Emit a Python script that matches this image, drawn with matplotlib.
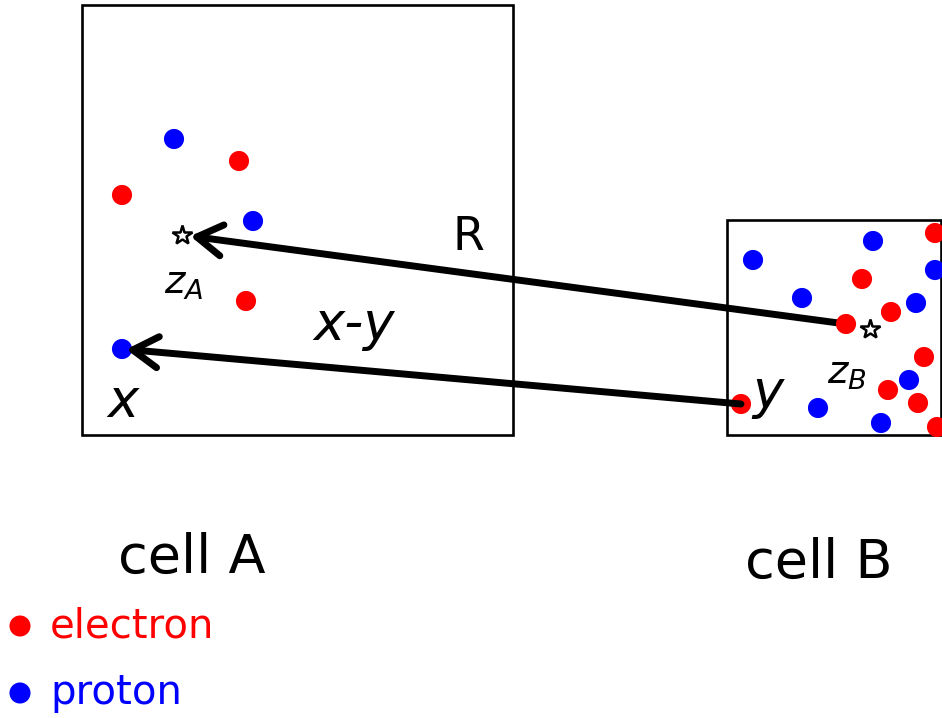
import matplotlib
matplotlib.use("Agg")
import matplotlib.pyplot as plt
from matplotlib.patches import Rectangle

# ---- data (diagram coordinates, y grows downward) ----
electron_x = [239, 122, 246, 935, 862, 891, 846, 924, 888, 918, 741, 937]
electron_y = [161, 195, 301, 233, 279, 312, 324, 357, 390, 403, 404, 427]
proton_x = [174, 253, 122, 753, 873, 935, 802, 916, 909, 818, 881]
proton_y = [139, 221, 349, 260, 241, 270, 298, 303, 380, 408, 423]
centers_x = [182, 870]
centers_y = [235, 329]
center_labels = ["$z_A$", "$z_B$"]
cell_labels = ["cell A", "cell B"]
legend_labels = ["electron", "proton"]

fig = plt.figure(figsize=(9.42, 7.18), dpi=100)
ax = fig.add_axes([0, 0, 1, 1])
ax.set_xlim(0, 942)
ax.set_ylim(718, 0)
ax.axis("off")

# cells
ax.add_patch(Rectangle((82, 5), 431, 430, fill=False, lw=1.9, ec="black", zorder=1))
ax.add_patch(Rectangle((727, 220), 214, 215, fill=False, lw=1.9, ec="black", zorder=1))

# particles
ax.scatter(electron_x, electron_y, s=210, c="red", edgecolors="none", zorder=3)
ax.scatter(proton_x, proton_y, s=210, c="blue", edgecolors="none", zorder=3)

# cell centres
ax.plot(centers_x, centers_y, ls="none", marker="*", ms=15, mfc="white",
        mec="black", mew=1.8, zorder=4)

# arrows
ax.annotate("", xy=(centers_x[0], centers_y[0]), xytext=(electron_x[6], electron_y[6]),
            arrowprops=dict(arrowstyle="->,head_length=0.65,head_width=0.4", lw=5,
                            color="black", shrinkA=0, shrinkB=6, mutation_scale=28),
            zorder=2)
ax.annotate("", xy=(proton_x[2], proton_y[2]), xytext=(electron_x[10], electron_y[10]),
            arrowprops=dict(arrowstyle="->,head_length=0.65,head_width=0.4", lw=5,
                            color="black", shrinkA=0, shrinkB=3, mutation_scale=28),
            zorder=5)

# labels
ax.text(468, 238, "R", fontsize=33, ha="center", va="center")
ax.text(354, 325, "x-y", fontsize=38, style="italic", ha="center", va="center")
ax.text(123, 402, "x", fontsize=38, style="italic", ha="center", va="center")
ax.text(752, 393, "y", fontsize=38, style="italic", ha="left", va="center")
ax.text(164, 294, center_labels[0], fontsize=28, ha="left", va="baseline")
ax.text(827, 384, center_labels[1], fontsize=28, ha="left", va="baseline")
ax.text(192, 573, cell_labels[0], fontsize=39, ha="center", va="baseline")
ax.text(819, 578, cell_labels[1], fontsize=39, ha="center", va="baseline")

# legend
ax.scatter([20], [626], s=230, c="red", edgecolors="none", zorder=3)
ax.scatter([20], [693], s=230, c="blue", edgecolors="none", zorder=3)
ax.text(50, 626, legend_labels[0], fontsize=29, color="red", ha="left", va="center")
ax.text(50, 693, legend_labels[1], fontsize=29, color="blue", ha="left", va="center")

fig.savefig("out.png", dpi=100)
